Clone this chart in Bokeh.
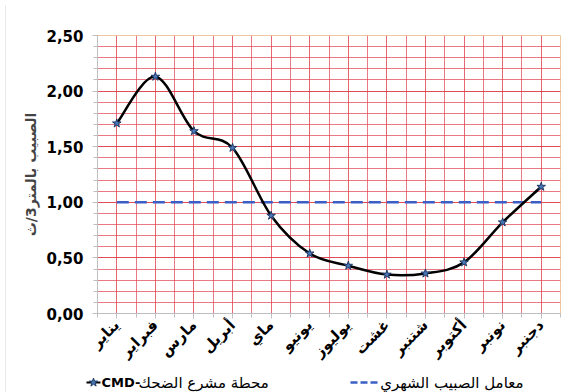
import numpy as np
from bokeh.plotting import figure
from bokeh.layouts import column, row
from bokeh.models import FixedTicker, CustomJSTickFormatter, Range1d
from bokeh.core.properties import value
from bokeh.embed import file_html
from bokeh.resources import INLINE

# Monthly discharge at the CMD station (m3/s) and the monthly flow coefficient
months = ["يناير", "فبراير", "مارس", "أبريل", "ماي", "يونيو",
          "يوليوز", "غشت", "شتنبر", "أكتوبر", "نونبر", "دجنبر"]
flow = [1.71, 2.13, 1.64, 1.49, 0.88, 0.54, 0.43, 0.35, 0.36, 0.46, 0.82, 1.14]
coef = [1.00, 1.00, 1.00, 1.00, 1.00, 1.00, 1.00, 1.00, 1.00, 1.00, 1.00, 1.00]
y_ticks = [0.0, 0.5, 1.0, 1.5, 2.0, 2.5]
y_minor = [0.0, 0.1, 0.2, 0.3, 0.4, 0.5, 0.6, 0.7, 0.8, 0.9, 1.0, 1.1, 1.2,
           1.3, 1.4, 1.5, 1.6, 1.7, 1.8, 1.9, 2.0, 2.1, 2.2, 2.3, 2.4, 2.5]

station_code = "CMD-"
station_name = "محطة مشرع الضحك"
coef_name = "معامل الصبيب الشهري"
y_title = "الصبيب بالمتر3/ث"

x = np.arange(len(months))
GRID = "#e0404e"
AXIS = "#bfbfbf"
EDGE = "#d4d4d4"
CURVE = "black"
STAR_FILL, STAR_LINE = "#4a78b8", "#1f3864"
REF = "#3b5fc4"
FONT = "DejaVu Sans"
W = 569


def no_align(fig):
    if "frame_align" in fig.properties():
        fig.frame_align = False


p = figure(width=W, height=367, output_backend="svg", toolbar_location=None,
           x_range=Range1d(-0.5, len(months) - 0.5), y_range=Range1d(0, 2.5),
           min_border_left=91, min_border_right=15, min_border_top=30,
           min_border_bottom=59)
p.background_fill_color = "white"
p.border_fill_color = "white"
p.outline_line_color = "#f0c8a0"

# category centres as major ticks, category boundaries as minor ticks
p.xaxis.ticker = FixedTicker(ticks=list(range(len(months))),
                             minor_ticks=[i - 0.5 for i in range(len(months) + 1)])
p.xaxis.major_label_overrides = {i: m for i, m in enumerate(months)}
p.xaxis.major_label_orientation = np.pi / 4
p.xaxis.major_label_text_font = FONT
p.xaxis.major_label_text_font_style = "bold"
p.xaxis.major_label_text_font_size = "15px"
p.xaxis.major_label_text_color = "black"
p.xaxis.major_label_standoff = 4

p.yaxis.ticker = FixedTicker(ticks=y_ticks, minor_ticks=y_minor)
p.yaxis.formatter = CustomJSTickFormatter(code="return tick.toFixed(2).replace('.', ',');")
p.yaxis.major_label_text_font = FONT
p.yaxis.major_label_text_font_style = "bold"
p.yaxis.major_label_text_font_size = "15px"
p.yaxis.major_label_text_color = "black"
p.yaxis.major_label_standoff = 9
p.yaxis.axis_label = y_title
p.yaxis.axis_label_text_font = FONT
p.yaxis.axis_label_text_font_style = "bold"
p.yaxis.axis_label_text_font_size = "14px"
p.yaxis.axis_label_standoff = 4

for ax in (p.xaxis, p.yaxis):
    ax.axis_line_color = AXIS
    ax.major_tick_line_color = AXIS
    ax.minor_tick_line_color = AXIS
    ax.major_tick_in = 0
    ax.minor_tick_in = 0
    ax.major_tick_out = 5
    ax.minor_tick_out = 4

for g in (p.xgrid, p.ygrid):
    g.grid_line_color = GRID
    g.grid_line_alpha = 0.8
    g.minor_grid_line_color = GRID
    g.minor_grid_line_alpha = 0.7

# reference line of the monthly coefficient
p.line(x, coef, line_color=REF, line_width=2.5, line_dash="12 6")

# smoothed discharge curve (Catmull-Rom segments as cubic Béziers)
pts = np.column_stack([x, np.asarray(flow, dtype=float)])
ext = np.vstack([pts[0], pts, pts[-1]])
n = len(pts) - 1
c0 = ext[1:n + 1] + (ext[2:n + 2] - ext[0:n]) / 6.0
c1 = ext[2:n + 2] - (ext[3:n + 3] - ext[1:n + 1]) / 6.0
p.bezier(x0=pts[:-1, 0], y0=pts[:-1, 1], x1=pts[1:, 0], y1=pts[1:, 1],
         cx0=c0[:, 0], cy0=c0[:, 1], cx1=c1[:, 0], cy1=c1[:, 1],
         line_color=CURVE, line_width=2.5)
p.scatter(x, flow, marker="star", size=9, fill_color=STAR_FILL,
          line_color=STAR_LINE, line_width=1)

# legend strip under the chart, laid out in pixel units over its full width
leg = figure(width=W, height=20, output_backend="svg", toolbar_location=None,
             x_range=Range1d(0, W), y_range=Range1d(0, 20),
             min_border=0, outline_line_color=None)
no_align(leg)
leg.axis.visible = False
leg.grid.visible = False
leg.background_fill_color = "white"
leg.border_fill_color = "white"
yc = 10
leg.line([80, 94], [yc, yc], line_color=CURVE, line_width=2)
leg.scatter([87], [yc], marker="star", size=9, fill_color=STAR_FILL,
            line_color=STAR_LINE, line_width=1)
leg.text([95], [yc], text=[station_code], text_font=value(FONT),
         text_font_style="bold", text_font_size="13px", text_align="left",
         text_baseline="middle", text_color="black")
leg.text([132], [yc], text=[station_name], text_font=value(FONT),
         text_font_size="15px", text_align="left", text_baseline="middle",
         text_color="black")
leg.line([344, 373], [yc, yc], line_color=REF, line_width=2.5, line_dash="7 3")
leg.text([517], [yc], text=[coef_name], text_font=value(FONT),
         text_font_size="15px", text_align="right", text_baseline="middle",
         text_color="black")


# thin grey strips forming the chart area's top and left edges
def strip(w, h):
    s = figure(width=w, height=h, output_backend="svg", toolbar_location=None,
               min_border=0, outline_line_color=None,
               x_range=Range1d(0, 1), y_range=Range1d(0, 1))
    no_align(s)
    s.axis.visible = False
    s.grid.visible = False
    s.background_fill_color = EDGE
    s.border_fill_color = EDGE
    return s


top_edge = strip(W + 1, 1)
left_edge = strip(1, 387)

layout = column(top_edge, row(left_edge, column(p, leg, spacing=0), spacing=0),
                spacing=0)
layout.margin = (4, 0, 0, 5)

open("out.html", "w").write(file_html(layout, INLINE))
